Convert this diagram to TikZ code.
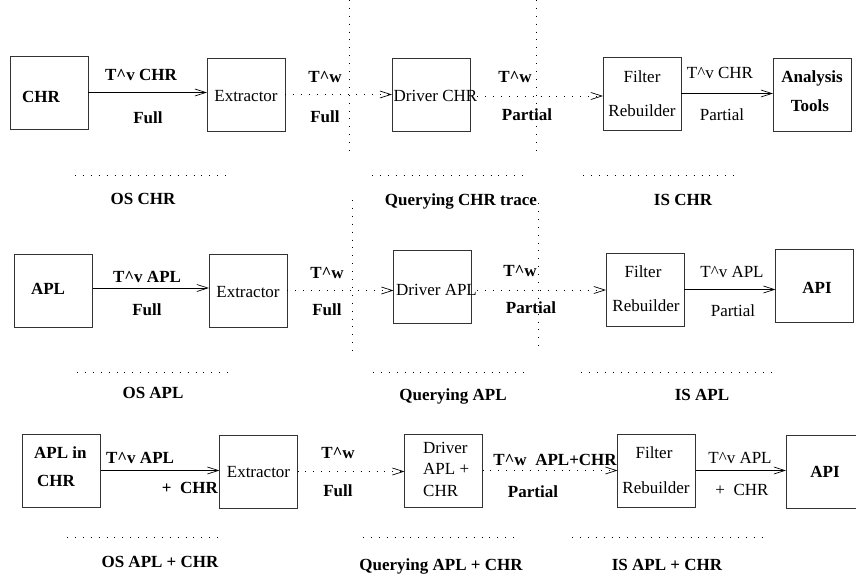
\documentclass[tikz,border=0pt]{standalone}
\usepackage{fontspec}
\setmainfont{Liberation Serif}
\usetikzlibrary{arrows.meta}
\begin{document}
\begin{tikzpicture}[x=1pt,y=-1pt,
 box/.style={draw=black!80, line width=0.8pt, minimum width=78pt, minimum height=73pt, inner sep=0pt, outer sep=0pt},
 t/.style={font=\fontsize{17}{20}\selectfont, inner sep=0pt, text height=11.3pt, text depth=0pt},
 b/.style={t, font=\fontsize{17}{20}\selectfont\bfseries},
 arr/.style={line width=0.7pt, -{Straight Barb[length=11pt,width=7pt]}},
 darr/.style={line width=0.9pt, dash pattern=on 0.9pt off 7pt, -{Straight Barb[length=11pt,width=7pt,line width=0.7pt]}},
 dots/.style={line width=0.9pt, dash pattern=on 0.9pt off 7pt}]
\useasboundingbox (0,0) rectangle (856,580);

% ---------- Row 1 ----------
\node[box] (chr1) at (49,92.5) {};
\node[box] (ext1) at (246,94.5) {};
\node[box] (drv1) at (431,94.5) {};
\node[box] (fr1) at (642,93.5) {};
\node[box] (at1) at (812,94.5) {};
\node[b] (chr1t) at (41,97) {CHR};
\node[t] (ext1t) at (246,95.5) {Extractor};
\node[t] (drv1t) at (435.5,96) {Driver CHR};
\node[t] (fr1a) at (642,77) {Filter};
\node[t] (fr1b) at (642,111) {Rebuilder};
\node[b] (at1a) at (812,77) {Analysis};
\node[b] (at1b) at (810,106) {Tools};

\draw[arr] (chr1.east) -- (chr1.east -| ext1.west);
\draw[darr] (ext1.east) -- (ext1.east -| drv1.west);
\draw[darr] (drv1t.east) -- (drv1t.east -| fr1.west);
\draw[arr] (fr1.east) -- (fr1.east -| at1.west);

\node[b] (l11) at (141,75) {T\^{}v CHR};
\node[b] (l12) at (148,118) {Full};
\node[b] (l13) at (325,77) {T\^{}w};
\node[b] (l14) at (325,117) {Full};
\node[b] (l15) at (515,77) {T\^{}w};
\node[b] (l16) at (527,115) {Partial};
\node[t] (l17) at (720,73) {T\^{}v CHR};
\node[t] (l18) at (722,115) {Partial};

\coordinate (h1a) at (75,175); \coordinate (h1b) at (228,175);
\coordinate (h1c) at (372,175); \coordinate (h1d) at (525,175);
\coordinate (h1e) at (583,175); \coordinate (h1f) at (737,175);
\draw[dots] (h1a) -- (h1b);
\draw[dots] (h1c) -- (h1d);
\draw[dots] (h1e) -- (h1f);
\node[b] (c11) at (143,199) {OS CHR};
\node[b] (c12) at (461,200) {Querying CHR trace};
\node[b] (c13) at (683,200) {IS CHR};

% ---------- Row 2 ----------
\node[box] (apl2) at (53.5,290.5) {};
\node[box] (ext2) at (248,290.5) {};
\node[box] (drv2) at (432.5,287) {};
\node[box] (fr2) at (645,289.5) {};
\node[box] (api2) at (814.5,285.5) {};
\node[b] (apl2t) at (48,289) {APL};
\node[t] (ext2t) at (248,292) {Extractor};
\node[t] (drv2t) at (436.5,290) {Driver APL};
\node[t] (fr2a) at (643,272) {Filter};
\node[t] (fr2b) at (646,306) {Rebuilder};
\node[b] (api2t) at (817,288) {API};

\draw[arr] (apl2.east) ++(0,-2.5) coordinate (s2) -- (s2 -| ext2.west);
\draw[darr] (ext2.east) -- (ext2.east -| drv2.west);
\draw[darr] (drv2t.east) -- (drv2t.east -| fr2.west);
\draw[arr] (fr2.east) -- (fr2.east -| api2.west);

\node[b] (l21) at (147,277) {T\^{}v APL};
\node[b] (l22) at (147,310) {Full};
\node[b] (l23) at (327,273) {T\^{}w};
\node[b] (l24) at (327,310) {Full};
\node[b] (l25) at (520,271) {T\^{}w};
\node[b] (l26) at (531,308) {Partial};
\node[t] (l27) at (732,272) {T\^{}v APL};
\node[t] (l28) at (733,311) {Partial};

\coordinate (h2a) at (77,372); \coordinate (h2b) at (230,372);
\coordinate (h2c) at (373,372); \coordinate (h2d) at (527,372);
\coordinate (h2e) at (581,372); \coordinate (h2f) at (778,372);
\draw[dots] (h2a) -- (h2b);
\draw[dots] (h2c) -- (h2d);
\draw[dots] (h2e) -- (h2f);
\node[b] (c21) at (153,393) {OS APL};
\node[b] (c22) at (453,395) {Querying APL};
\node[b] (c23) at (702,395) {IS APL};

% ---------- Row 3 ----------
\node[box] (apl3) at (61.5,470.5) {};
\node[box] (ext3) at (258.5,471.5) {};
\node[box] (drv3) at (443.5,470.5) {};
\node[box] (fr3) at (656.5,470.5) {};
\node[box] (api3) at (825,471.5) {};
\node[b, anchor=west] (apl3a) at (34,453) {APL in};
\node[b, anchor=west] (apl3b) at (37,481) {CHR};
\node[t] (ext3t) at (258.5,472) {Extractor};
\node[t, anchor=west] (drv3a) at (423,448) {Driver};
\node[t, anchor=west] (drv3b) at (423,469) {APL +};
\node[t, anchor=west] (drv3c) at (423,491) {CHR};
\node[t] (fr3a) at (654,453) {Filter};
\node[t] (fr3b) at (656,488) {Rebuilder};
\node[b] (api3t) at (825,472) {API};

\draw[arr] (apl3.east) -- (apl3.east -| ext3.west);
\draw[darr] (ext3.east) -- (ext3.east -| drv3.west);
\draw[darr] (drv3.east) -- (drv3.east -| fr3.west);
\draw[arr] (fr3.east) -- (fr3.east -| api3.west);

\node[b] (l31) at (140,458) {T\^{}v APL};
\node[b, anchor=east] (l32) at (218,488) {+\ \ CHR};
\node[b] (l33) at (338,453) {T\^{}w};
\node[b] (l34) at (338,491) {Full};
\node[b] (l35) at (555,460) {T\^{}w\ \ APL+CHR};
\node[b] (l36) at (533,492) {Partial};
\node[t] (l37) at (740,458) {T\^{}v APL};
\node[t] (l38) at (742,490) {+\ \ CHR};

\coordinate (h3a) at (67,537); \coordinate (h3b) at (222,537);
\coordinate (h3c) at (363,537); \coordinate (h3d) at (518,537);
\coordinate (h3e) at (572,537); \coordinate (h3f) at (768,537);
\draw[dots] (h3a) -- (h3b);
\draw[dots] (h3c) -- (h3d);
\draw[dots] (h3e) -- (h3f);
\node[b] (c31) at (160,562) {OS APL + CHR};
\node[b] (c32) at (441,565) {Querying APL + CHR};
\node[b] (c33) at (667,565) {IS APL + CHR};

% ---------- vertical dotted separators ----------
\coordinate (v1a) at (349,0); \coordinate (v1b) at (349,157);
\coordinate (v2a) at (352,200); \coordinate (v2b) at (352,353);
\coordinate (v3a) at (536,0); \coordinate (v3b) at (536,155);
\coordinate (v4a) at (538,203); \coordinate (v4b) at (538,352);
\draw[dots] (v1a) -- (v1b);
\draw[dots] (v2a) -- (v2b);
\draw[dots] (v3a) -- (v3b);
\draw[dots] (v4a) -- (v4b);
\end{tikzpicture}
\end{document}
